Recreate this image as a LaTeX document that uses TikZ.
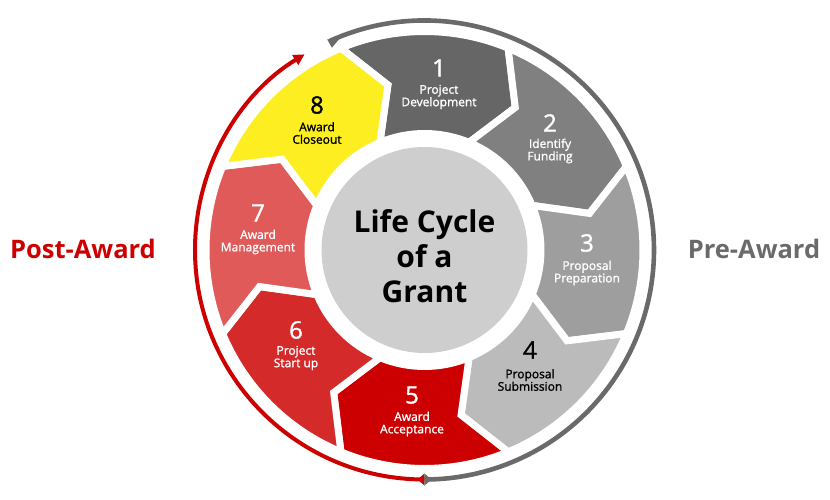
\documentclass[tikz,border=0pt]{standalone}
\usepackage{fontspec}
\setmainfont{Open Sans}
\newfontfamily\medfont{Open Sans}[FakeBold=1.3]
\usetikzlibrary{arrows.meta}
\definecolor{segA}{HTML}{666666}
\definecolor{segB}{HTML}{808080}
\definecolor{segC}{HTML}{9E9E9E}
\definecolor{segD}{HTML}{BBBBBB}
\definecolor{segE}{HTML}{CC0000}
\definecolor{segF}{HTML}{D42A2A}
\definecolor{segG}{HTML}{E05A5A}
\definecolor{segH}{HTML}{FCEE21}
\definecolor{hubgrey}{HTML}{CECECE}
\definecolor{arcgrey}{HTML}{6A6A6A}
\definecolor{arcred}{HTML}{CC0000}
\tikzset{
  segshape/.style={draw=white, line width=7pt, line join=miter},
  numtext/.style={font=\medfont\fontsize{24}{24}\selectfont, inner sep=0pt},
  labtext/.style={font=\medfont\fontsize{12}{12.5}\selectfont, align=center, inner sep=0pt},
  phasetext/.style={font=\fontsize{25.5}{25.5}\selectfont\bfseries, anchor=base, inner sep=0pt},
}
\begin{document}
\begin{tikzpicture}[x=1pt,y=1pt]
\useasboundingbox (-424.5,-250) rectangle (405.5,250);
\def\Ro{218.5}
\def\Ri{116.5}
\def\Rm{169}
\def\dd{10}
\foreach \k/\col in {1/segA,2/segB,3/segC,4/segD,5/segE,6/segF,7/segG,8/segH}{
  \pgfmathsetmacro\bone{90-45*(\k-1)+22.5}
  \pgfmathsetmacro\btwo{90-45*(\k-1)-22.5}
  \fill[\col, segshape] (\bone:\Ro) arc[start angle=\bone, end angle=\btwo, radius=\Ro]
     -- ({\btwo-\dd}:\Rm) -- (\btwo:\Ri)
     arc[start angle=\btwo, end angle=\bone, radius=\Ri]
     -- ({\bone-\dd}:\Rm) -- cycle;
}
\node[circle, fill=hubgrey, minimum size=206pt, inner sep=0pt] (hub) at (0,0) {};
\node[font=\fontsize{30}{35}\selectfont\bfseries, align=center, inner sep=0pt] (hubtext) at (0,-6) {Life Cycle\\of a\\Grant};
% outer arcs
\draw[arcred, line width=4pt, -{Triangle[length=11pt, width=11pt]}] (270:229.5) arc[start angle=270, end angle=121.5, radius=229.5];
\draw[arcgrey, line width=4.6pt] (114.5:229.5) arc[start angle=114.5, end angle=-90, radius=229.5];
\fill[arcgrey] (114.8:232) -- (112:227.5) -- (114.6:222.5) -- cycle;
\coordinate (junction) at (270:229.5);
\fill[arcred] (junction) ++(-7,0) -- ++(7,6) -- ++(0,-12) -- cycle;
\fill[arcgrey] (junction) ++(7,0) -- ++(-7,6) -- ++(0,-12) -- cycle;
% segment texts
\node[numtext, white] (n1) at (14.5,182) {1};
\node[labtext, white] (l1) at (14.5,153) {Project\\Development};
\node[numtext, white] (n2) at (125.5,127) {2};
\node[labtext, white] (l2) at (125.5,99) {Identify\\Funding};
\node[numtext, white] (n3) at (162.5,7) {3};
\node[labtext, white] (l3) at (162.5,-23) {Proposal\\Preparation};
\node[numtext, black] (n4) at (105.5,-100) {4};
\node[labtext, black] (l4) at (105.5,-130) {Proposal\\Submission};
\node[numtext, white] (n5) at (-12.5,-145) {5};
\node[labtext, white] (l5) at (-12.5,-174) {Award\\Acceptance};
\node[numtext, white] (n6) at (-128.5,-80) {6};
\node[labtext, white] (l6) at (-128.5,-108) {Project\\Start up};
\node[numtext, white] (n7) at (-166.5,37) {7};
\node[labtext, white] (l7) at (-166.5,8) {Award\\Management};
\node[numtext, black] (n8) at (-107.5,145) {8};
\node[labtext, black] (l8) at (-107.5,117) {Award\\Closeout};
% phase labels
\node[phasetext, arcred] (post) at (-341.5,-9) {Post-Award};
\node[phasetext, arcgrey] (pre) at (329.5,-9) {Pre-Award};
\end{tikzpicture}
\end{document}
